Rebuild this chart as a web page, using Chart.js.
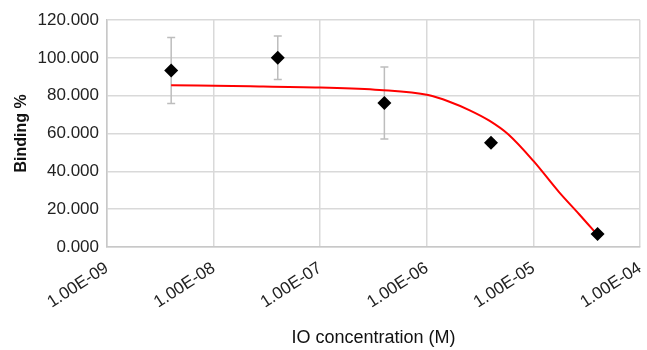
<!DOCTYPE html>
<html>
<head>
<meta charset="utf-8">
<script src="https://cdn.jsdelivr.net/npm/chart.js@4.4.1/dist/chart.umd.min.js"></script>
<style>
  html, body { margin: 0; padding: 0; background: #fff; }
  #wrap { width: 647px; height: 350px; }
</style>
</head>
<body>
<div id="wrap"><canvas id="bindingChart"></canvas></div>
<script>
// measured points
const concentration = [4e-9, 4e-8, 4e-7, 4e-6, 4e-5];
const binding = [93.3, 100.0, 76.1, 55.1, 6.9];
const bindingErr = [17.5, 11.5, 19.0, 1.5, 0.8];

// fitted curve
const fitX = [4e-9, 2.2e-8, 1e-7, 3.6e-7, 1.03e-6, 1.63e-6, 2.5e-6, 3.86e-6, 5.8e-6, 1e-5, 1.74e-5, 2.7e-5, 4e-5];
const fitY = [85.5, 85.0, 84.3, 83.0, 80.3, 76.8, 72.4, 66.8, 59.6, 45.5, 29.0, 17.2, 6.3];

const xTicks = [1e-9, 1e-8, 1e-7, 1e-6, 1e-5, 1e-4];

const fontFamily = '"Liberation Sans", Arial, Helvetica, sans-serif';

function sci(v) {
  const e = Math.round(Math.log10(v));
  const m = v / Math.pow(10, e);
  const sign = e < 0 ? '-' : '+';
  return m.toFixed(2) + 'E' + sign + String(Math.abs(e)).padStart(2, '0');
}

// error bars drawn under the diamonds
const errorBars = {
  id: 'errorBars',
  beforeDatasetsDraw(chart) {
    const { ctx, scales: { x, y } } = chart;
    ctx.save();
    ctx.strokeStyle = '#bdbdbd';
    ctx.lineWidth = 1.5;
    concentration.forEach((c, i) => {
      const px = x.getPixelForValue(c);
      const top = y.getPixelForValue(binding[i] + bindingErr[i]);
      const bot = y.getPixelForValue(binding[i] - bindingErr[i]);
      ctx.beginPath();
      ctx.moveTo(px, top); ctx.lineTo(px, bot);
      ctx.moveTo(px - 4, top); ctx.lineTo(px + 4, top);
      ctx.moveTo(px - 4, bot); ctx.lineTo(px + 4, bot);
      ctx.stroke();
    });
    ctx.restore();
  }
};

const ctx = document.getElementById('bindingChart').getContext('2d');

new Chart(ctx, {
  type: 'scatter',
  data: {
    datasets: [
      {
        label: 'Fit',
        type: 'line',
        data: fitX.map((v, i) => ({ x: v, y: fitY[i] })),
        borderColor: '#ff0000',
        borderWidth: 2,
        pointRadius: 0,
        cubicInterpolationMode: 'monotone',
        fill: false,
        order: 2,
      },
      {
        label: 'Binding',
        data: concentration.map((v, i) => ({ x: v, y: binding[i] })),
        pointStyle: 'rectRot',
        pointRadius: 7,
        backgroundColor: '#000',
        borderColor: '#000',
        borderWidth: 0,
        order: 1,
      },
    ],
  },
  options: {
    responsive: true,
    maintainAspectRatio: false,
    animation: false,
    layout: { padding: { left: 0, right: 6, top: 20, bottom: 0 } },
    plugins: {
      legend: { display: false },
      tooltip: { enabled: false },
    },
    scales: {
      x: {
        type: 'logarithmic',
        min: 1e-9,
        max: 1e-4,
        afterBuildTicks(scale) {
          scale.ticks = xTicks.map((v) => ({ value: v }));
        },
        afterFit(scale) {
          scale.height = 103;
          scale.paddingLeft = 0;
          scale.paddingRight = 0;
        },
        ticks: {
          callback: (v) => sci(v),
          minRotation: 33,
          maxRotation: 33,
          autoSkip: false,
          padding: 11,
          color: '#222',
          font: { family: fontFamily, size: 17 },
        },
        grid: { color: '#d9d9d9', lineWidth: 1.5, drawTicks: false },
        border: { color: '#c8c8c8', width: 1.5 },
        title: {
          display: true,
          text: 'IO concentration (M)',
          color: '#111',
          font: { family: fontFamily, size: 18 },
          padding: { top: 0, bottom: 1 },
        },
      },
      y: {
        min: 0,
        max: 120,
        ticks: {
          stepSize: 20,
          callback: (v) => v.toFixed(3),
          padding: 8,
          color: '#222',
          font: { family: fontFamily, size: 17 },
        },
        afterFit(scale) {
          scale.width = 107;
          scale.paddingTop = 0;
          scale.paddingBottom = 0;
        },
        grid: { color: '#d9d9d9', lineWidth: 1.5, drawTicks: false },
        border: { color: '#c8c8c8', width: 1.5 },
        title: {
          display: true,
          text: 'Binding %',
          color: '#111',
          font: { family: fontFamily, size: 16, weight: 'bold' },
          padding: { top: 12, bottom: 0 },
        },
      },
    },
  },
  plugins: [errorBars],
});
</script>
</body>
</html>
